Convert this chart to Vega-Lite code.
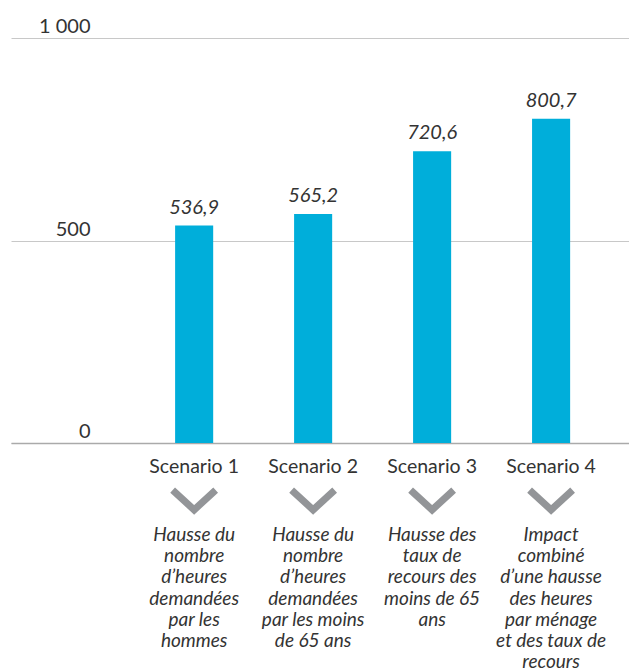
{
  "$schema": "https://vega.github.io/schema/vega-lite/v6.json",
  "padding": {"left": 11, "top": 16, "right": 0, "bottom": 0},
  "background": "white",
  "config": {
    "locale": {"number": {"decimal": ",", "thousands": " ", "grouping": [3], "currency": ["", " €"]}},
    "font": "Lato",
    "view": {"stroke": null}
  },
  "datasets": {
    "scenarios": [
      {"scenario": "Scenario 1", "heures": 536.9, "description": "Hausse du\nnombre\nd’heures\ndemandées\npar les\nhommes"},
      {"scenario": "Scenario 2", "heures": 565.2, "description": "Hausse du\nnombre\nd’heures\ndemandées\npar les moins\nde 65 ans"},
      {"scenario": "Scenario 3", "heures": 720.6, "description": "Hausse des\ntaux de\nrecours des\nmoins de 65\nans"},
      {"scenario": "Scenario 4", "heures": 800.7, "description": "Impact\ncombiné\nd’une hausse\ndes heures\npar ménage\net des taux de\nrecours"}
    ]
  },
  "bounds": "flush",
  "spacing": 0,
  "vconcat": [
    {
      "width": 618,
      "height": 405,
      "data": {"name": "scenarios"},
      "encoding": {
        "x": {
          "field": "scenario",
          "type": "nominal",
          "sort": null,
          "scale": {"type": "band", "paddingInner": 0.68, "paddingOuter": 0.937, "align": 0.736},
          "axis": {
            "title": null,
            "domainColor": "#aaaaaa",
            "domainWidth": 1.5,
            "ticks": false,
            "tickSize": 0,
            "labelAngle": 0,
            "labelBaseline": "alphabetic",
            "labelPadding": 29,
            "labelFontSize": 19.5,
            "labelColor": "#333333",
            "labelLimit": 0,
            "labelOverlap": false
          }
        },
        "y": {
          "field": "heures",
          "type": "quantitative",
          "scale": {"domain": [0, 1000], "nice": false},
          "axis": {
            "title": null,
            "values": [0, 500, 1000],
            "format": ",d",
            "grid": true,
            "gridColor": "#c8c8c8",
            "gridWidth": 1,
            "domain": false,
            "ticks": false,
            "tickSize": 0,
            "labelAlign": "right",
            "labelBaseline": "alphabetic",
            "labelPadding": -79,
            "labelOffset": -5.5,
            "labelFontSize": 20,
            "labelColor": "#333333",
            "labelFlush": false
          }
        }
      },
      "layer": [
        {"mark": {"type": "bar", "color": "#00aeda"}},
        {
          "mark": {"type": "text", "dy": -12, "baseline": "alphabetic", "fontStyle": "italic", "fontSize": 20, "color": "#333333"},
          "encoding": {"text": {"field": "heures", "type": "quantitative", "format": ".1f"}}
        }
      ]
    },
    {
      "width": 618,
      "height": 114,
      "data": {"name": "scenarios"},
      "mark": {
        "type": "point",
        "shape": "M-1,-0.46L0,0.46L1,-0.46",
        "filled": false,
        "size": 1850,
        "stroke": "#939598",
        "strokeWidth": 7,
        "opacity": 1,
        "strokeJoin": "miter",
        "strokeCap": "butt"
      },
      "encoding": {
        "x": {
          "field": "description",
          "type": "nominal",
          "sort": null,
          "scale": {"type": "band", "paddingInner": 0.68, "paddingOuter": 0.937, "align": 0.736},
          "axis": {
            "title": null,
            "domain": false,
            "ticks": false,
            "tickSize": 0,
            "grid": false,
            "labelAngle": 0,
            "labelBaseline": "alphabetic",
            "labelPadding": -16.5,
            "labelFontSize": 19,
            "labelFontStyle": "italic",
            "labelLineHeight": 21.2,
            "labelColor": "#333333",
            "labelLimit": 0,
            "labelOverlap": false,
            "labelExpr": "split(datum.label, '\\n')"
          }
        }
      }
    }
  ],
  "resolve": {"scale": {"x": "independent"}}
}
